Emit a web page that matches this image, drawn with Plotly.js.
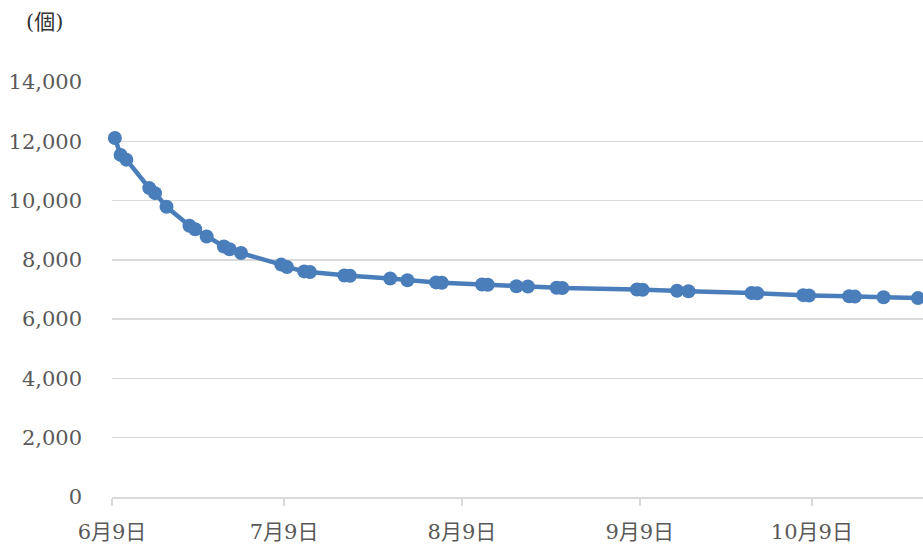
<!DOCTYPE html>
<html>
<head>
<meta charset="utf-8">
<script src="https://cdn.plot.ly/plotly-3.0.1.min.js"></script>
<style>html,body{margin:0;padding:0;background:#fff;}#chart{width:923px;height:548px;}</style>
</head>
<body>
<div id="chart"></div>
<script>
const dates = ["2021-06-09","2021-06-10","2021-06-11","2021-06-15","2021-06-16","2021-06-18","2021-06-22","2021-06-23","2021-06-25","2021-06-28","2021-06-29","2021-07-01","2021-07-08","2021-07-09","2021-07-12","2021-07-13","2021-07-19","2021-07-20","2021-07-27","2021-07-30","2021-08-04","2021-08-05","2021-08-12","2021-08-13","2021-08-18","2021-08-20","2021-08-25","2021-08-26","2021-09-08","2021-09-09","2021-09-15","2021-09-17","2021-09-28","2021-09-29","2021-10-07","2021-10-08","2021-10-15","2021-10-16","2021-10-21","2021-10-27"];
const counts = [12110,11540,11380,10420,10250,9790,9150,9030,8790,8450,8360,8230,7840,7760,7610,7590,7470,7460,7370,7310,7240,7230,7170,7160,7110,7100,7060,7050,7000,6990,6960,6940,6880,6870,6810,6800,6770,6760,6740,6710];
const tickDates = ["2021-06-09","2021-07-09","2021-08-09","2021-09-09","2021-10-09"];
const tickLabels = ["6月9日","7月9日","8月9日","9月9日","10月9日"];
const unitLabel = "(個)";

const fontFam = "'DejaVu Serif', 'Noto Sans CJK JP', serif";
// points sit in the middle of each day slot, as on a date axis
const xPlot = dates.map(d => d + " 12:00");
const trace = {
  x: xPlot, y: counts, type: 'scatter', mode: 'lines+markers',
  line: {color: '#4a7ebb', width: 4.5},
  marker: {color: '#4a7ebb', size: 14},
  cliponaxis: false, hoverinfo: 'none'
};
const layout = {
  width: 923, height: 548,
  margin: {l: 112, r: 0, t: 82, b: 51},
  paper_bgcolor: '#fff', plot_bgcolor: '#fff',
  showlegend: false,
  font: {family: fontFam, color: '#595959', size: 20},
  xaxis: {
    type: 'date', range: ['2021-06-09', '2021-10-28 09:00'],
    tickmode: 'array', tickvals: tickDates, ticktext: tickLabels,
    showgrid: false, zeroline: false,
    showline: true, linecolor: '#d9d9d9', linewidth: 1.5,
    ticks: 'outside', ticklen: 7, tickcolor: '#d9d9d9', tickwidth: 1.5,
    tickfont: {family: fontFam, size: 21, color: '#595959'},
    ticklabelstandoff: 8
  },
  yaxis: {
    range: [0, 14000], dtick: 2000, tickformat: ',',
    showgrid: true, gridcolor: '#d9d9d9', gridwidth: 1.5,
    zeroline: false, showline: false, ticks: '',
    tickfont: {family: fontFam, size: 21, color: '#595959'},
    ticklabelstandoff: 29
  },
  annotations: [{
    text: unitLabel, xref: 'paper', yref: 'paper', x: -0.108, y: 1.145,
    xanchor: 'left', yanchor: 'middle', showarrow: false,
    font: {family: fontFam, size: 21, color: '#333'}
  }]
};
Plotly.newPlot('chart', [trace], layout, {staticPlot: true, displayModeBar: false});
</script>
</body>
</html>
